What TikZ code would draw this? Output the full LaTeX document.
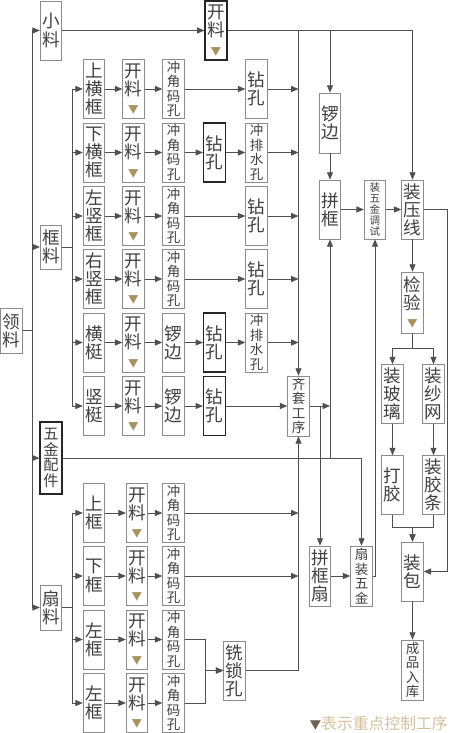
\documentclass[tikz,border=0pt]{standalone}
\usepackage{fontspec}
\setmainfont{Noto Sans CJK SC}
\usetikzlibrary{arrows.meta}

\definecolor{boxgray}{HTML}{8C8C8C}
\definecolor{linegray}{HTML}{505050}
\definecolor{txtgray}{HTML}{404040}
\definecolor{mkcol}{HTML}{A8935F}
\definecolor{lgtxt}{HTML}{D2C29A}
\definecolor{lgmk}{HTML}{6E6150}
\newcommand\fbig{\fontsize{15}{15.5}\selectfont}
\newcommand\fmid{\fontsize{11.5}{12.4}\selectfont}
\newcommand\fsml{\fontsize{9}{9.4}\selectfont}
\newcommand\mk{{\fontsize{9}{9}\selectfont\color{mkcol}▼}}

\begin{document}
\begin{tikzpicture}[
  x=0.03cm, y=-0.03cm,
  >={Triangle[length=2.2mm,width=1.8mm]},
  box/.style={draw=boxgray, line width=0.6pt, fill=white, text=txtgray, font=\fbig,
    align=center, inner sep=0pt, minimum width=0.65cm, minimum height=1.77cm},
  heavy/.style={box, draw=black!85, line width=1.2pt},
  mid/.style={font=\fmid},
  sml/.style={font=\fsml},
  wire/.style={draw=linegray, line width=0.7pt}
]
  \useasboundingbox (0,0) rectangle (450,733);

  % left column
  \node[box, minimum height=1.35cm] (lingliao) at (11.5,330.5) {领\\料};
  \node[box] (xiaoliao) at (51,30.5) {小\\料};
  \node[box, minimum height=1.32cm] (kuangliao) at (51,247) {框\\料};
  \node[heavy, minimum height=2.16cm, font=\fontsize{13}{13.4}\selectfont] (wujin) at (51,458) {五\\金\\配\\件};
  \node[box, minimum height=1.35cm] (shanliao) at (51,607.5) {扇\\料};
  \node[heavy] (kailiao0) at (216,30.5) {开\\料\\\mk};

  % frame rows
  \node[box] (fa1) at (94,89) {上\\横\\框};
  \node[box] (fa2) at (94,152.5) {下\\横\\框};
  \node[box] (fa3) at (94,216) {左\\竖\\框};
  \node[box] (fa4) at (94,279) {右\\竖\\框};
  \node[box] (fa5) at (94,342.5) {横\\梃};
  \node[box] (fa6) at (94,406) {竖\\梃};
  \foreach \i/\y in {1/89,2/152.5,3/216,4/279,5/342.5,6/406}
    \node[box] (fk\i) at (133.5,\y) {开\\料\\\mk};
  \node[box, mid] (fc1) at (173.5,89) {冲\\角\\码\\孔};
  \node[box, mid] (fc2) at (173.5,152.5) {冲\\角\\码\\孔};
  \node[box, mid] (fc3) at (173.5,216) {冲\\角\\码\\孔};
  \node[box, mid] (fc4) at (173.5,279) {冲\\角\\码\\孔};
  \node[box] (fc5) at (173.5,342.5) {锣\\边};
  \node[box] (fc6) at (173.5,406) {锣\\边};
  \node[heavy] (fd2) at (214.5,152.5) {钻\\孔};
  \node[heavy] (fd5) at (214.5,342.5) {钻\\孔};
  \node[heavy] (fd6) at (214.5,406) {钻\\孔};
  \node[box] (fe1) at (256.5,89) {钻\\孔};
  \node[box, mid] (fe2) at (256.5,152.5) {冲\\排\\水\\孔};
  \node[box] (fe3) at (256.5,216) {钻\\孔};
  \node[box] (fe4) at (256.5,279) {钻\\孔};
  \node[box, mid] (fe5) at (256.5,342.5) {冲\\排\\水\\孔};

  % sash rows
  \node[box] (sa1) at (94,513) {上\\框};
  \node[box] (sa2) at (94,576) {下\\框};
  \node[box] (sa3) at (94,639.5) {左\\框};
  \node[box] (sa4) at (94,703) {左\\框};
  \foreach \i/\y in {1/513,2/576,3/639.5,4/703} {
    \node[box] (sk\i) at (137,\y) {开\\料\\\mk};
    \node[box, mid] (sc\i) at (173.5,\y) {冲\\角\\码\\孔};
  }
  \node[box] (xisuo) at (234.5,670.5) {铣\\锁\\孔};

  % middle and right
  \node[box, mid, minimum height=1.8cm] (qitao) at (298.5,406) {齐\\套\\工\\序};
  \node[box, minimum height=1.8cm] (luobian) at (330,123) {锣\\边};
  \node[box] (pinkuang) at (330,209.5) {拼\\框};
  \node[box, sml] (tiaoshi) at (375,209.5) {装\\五\\金\\调\\试};
  \node[box] (zyx) at (412.5,209.5) {装\\压\\线};
  \node[box, minimum height=1.83cm] (jianyan) at (412.5,302.5) {检\\验\\\mk};
  \node[box] (boli) at (392.5,394) {装\\玻\\璃};
  \node[box] (shawang) at (433.5,394) {装\\纱\\网};
  \node[box] (dajiao) at (392.5,485) {打\\胶};
  \node[box] (jiaotiao) at (433.5,485) {装\\胶\\条};
  \node[box] (zhuangbao) at (412.5,571.5) {装\\包};
  \node[box, mid, minimum height=1.8cm] (ruku) at (412.5,670) {成\\品\\入\\库};
  \node[box, minimum height=1.8cm] (pks) at (320,576) {拼\\框\\扇};
  \node[box, mid, minimum height=1.8cm] (shanwujin) at (361.5,576) {扇\\装\\五\\金};

  \node[anchor=east, inner sep=0pt, font=\fontsize{13.5}{13.5}\selectfont, text=lgtxt] (legend) at (448,723)
    {{\fontsize{10}{10}\selectfont\color{lgmk}▼}表示重点控制工序};

  \coordinate (trunk) at (32,0);
  \coordinate (bus) at (72,0);
  \coordinate (xbus) at (205,0);
  \coordinate (rbus) at (447,0);

  % feeding lines
  \foreach \t in {xiaoliao,kuangliao,wujin,shanliao}
    \draw[wire,->] (lingliao.east) -- (trunk |- lingliao.east) |- (\t.west);
  \foreach \i in {1,...,6}
    \draw[wire,->] (kuangliao.east) -- (bus |- kuangliao.east) |- (fa\i.west);
  \foreach \i in {1,...,4}
    \draw[wire,->] (shanliao.east) -- (bus |- shanliao.east) |- (sa\i.west);

  % frame rows
  \foreach \i in {1,...,6} {
    \draw[wire,->] (fa\i) -- (fk\i);
    \draw[wire,->] (fk\i) -- (fc\i);
  }
  \draw[wire,->] (fc1) -- (fe1);
  \draw[wire,->] (fc2) -- (fd2);
  \draw[wire,->] (fd2) -- (fe2);
  \draw[wire,->] (fc3) -- (fe3);
  \draw[wire,->] (fc4) -- (fe4);
  \draw[wire,->] (fc5) -- (fd5);
  \draw[wire,->] (fd5) -- (fe5);
  \draw[wire,->] (fc6) -- (fd6);
  \draw[wire,->] (fd6) -- (qitao);
  \foreach \i in {1,...,5}
    \draw[wire,->] (fe\i.east) -- (qitao |- fe\i.east);

  % small parts
  \draw[wire,->] (xiaoliao) -- (kailiao0);
  \draw[wire,->] (kailiao0.east) -| (qitao.north);
  \draw[wire,->] (kailiao0.east) -| (luobian.north);
  \draw[wire,->] (kailiao0.east) -| (zyx.north);

  % sash rows
  \foreach \i in {1,...,4} {
    \draw[wire,->] (sa\i) -- (sk\i);
    \draw[wire,->] (sk\i) -- (sc\i);
  }
  \draw[wire,->] (sc1.east) -- (qitao |- sc1.east);
  \draw[wire,->] (sc2.east) -- (qitao |- sc2.east);
  \draw[wire,->] (sc3.east) -- (xbus |- sc3.east) |- (xisuo.west);
  \draw[wire,->] (sc4.east) -- (xbus |- sc4.east) |- (xisuo.west);
  \draw[wire,->] (xisuo.east) -| (qitao.south);

  % assembly
  \draw[wire,->] (luobian) -- (pinkuang);
  \draw[wire,->] (pinkuang) -- (tiaoshi);
  \draw[wire,->] (tiaoshi) -- (zyx);
  \draw[wire,->] (qitao.east) -- (pinkuang |- qitao.east);
  \draw[wire,->] (qitao.east) -| (pks.north);
  \draw[wire,->] (wujin.east) -| (pinkuang.south);
  \draw[wire,->] (wujin.east) -| (shanwujin.north);
  \draw[wire,->] (pks) -- (shanwujin);
  \draw[wire,->] (shanwujin.east) -| (tiaoshi.south);

  \draw[wire,->] (zyx) -- (jianyan);
  \draw[wire,->] (jianyan.south) -- ++(0,15) -| (boli.north);
  \draw[wire,->] (jianyan.south) -- ++(0,15) -| (shawang.north);
  \draw[wire,->] (boli) -- (dajiao);
  \draw[wire,->] (shawang) -- (jiaotiao);
  \draw[wire,->] (dajiao.south) -- ++(0,13) -| (zhuangbao.north);
  \draw[wire,->] (jiaotiao.south) -- ++(0,13) -| (zhuangbao.north);
  \draw[wire,->] (zyx.east) -- (rbus |- zyx.east) |- (zhuangbao.east);
  \draw[wire,->] (zhuangbao) -- (ruku);
\end{tikzpicture}
\end{document}
